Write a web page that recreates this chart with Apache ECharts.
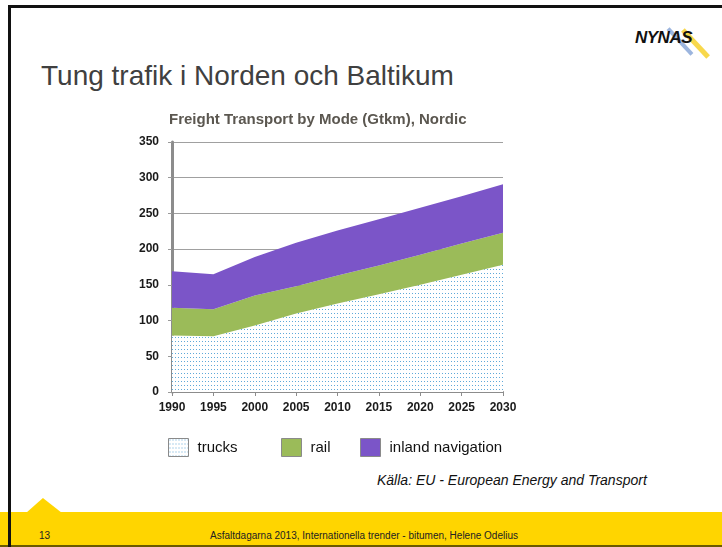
<!DOCTYPE html>
<html>
<head>
<meta charset="utf-8">
<title>Tung trafik i Norden och Baltikum</title>
<script src="https://cdn.jsdelivr.net/npm/echarts@6/dist/echarts.min.js"></script>
<style>
  html, body { margin: 0; padding: 0; background: #fff; }
  .slide {
    position: relative;
    width: 722px;
    height: 547px;
    overflow: hidden;
    font-family: Arial, "Liberation Sans", sans-serif;
  }
  .border-top { position: absolute; left: 8px; top: 5px; width: 714px; height: 3px; background: #111; }
  .border-left { position: absolute; left: 8px; top: 5px; width: 3px; height: 542px; background: #111; z-index: 3; }
  .heading {
    position: absolute; left: 41px; top: 60px;
    font-size: 28px; color: #404040; white-space: nowrap;
  }
  .logo { position: absolute; left: 630px; top: 20px; width: 80px; height: 36px; }
  .logo .blue { position: absolute; left: 48px; top: 4px; width: 4px; height: 35px; background: #5a84c8; transform: rotate(-43deg); opacity: .6; }
  .logo .yellow { position: absolute; left: 63px; top: 5px; width: 5px; height: 37px; background: #f5c800; transform: rotate(-43deg); opacity: .7; }
  .logo .name {
    position: absolute; left: 5px; top: 8px;
    font-size: 17px; font-weight: bold; font-style: italic; letter-spacing: -0.5px; color: #111;
  }
  .source {
    position: absolute; left: 377px; top: 472px;
    font-size: 14px; font-style: italic; color: #111; white-space: nowrap;
  }
  .footer { position: absolute; left: 0; top: 512px; width: 722px; height: 33px; background: #ffd500; border-bottom: 2px solid #6b5a00; }
  .bump { position: absolute; left: 26px; top: 498px; width: 36px; height: 15px; background: #ffd500; clip-path: polygon(0 100%, 47% 0, 100% 100%); }
  .footer-text { position: absolute; top: 530px; font-size: 10px; color: #222; white-space: nowrap; }
  #chart { position: absolute; left: 0; top: 0; width: 722px; height: 547px; z-index: 2; }
</style>
</head>
<body>
<div class="slide">
  <div class="border-top"></div>
  <div class="border-left"></div>
  <div class="heading">Tung trafik i Norden och Baltikum</div>
  <div class="logo">
    <div class="blue"></div>
    <div class="yellow"></div>
    <div class="name">NYNAS</div>
  </div>
  <div class="source">Källa: EU - European Energy and Transport</div>
  <div class="bump"></div>
  <div class="footer"></div>
  <div class="footer-text" style="left: 39px;">13</div>
  <div class="footer-text" style="left: 210px;">Asfaltdagarna 2013, Internationella trender - bitumen, Helene Odelius</div>
  <div id="chart"></div>
</div>

<script>
// data (Gtkm)
const years = ["1990", "1995", "2000", "2005", "2010", "2015", "2020", "2025", "2030"];
const trucks = [79, 78, 93, 110, 124, 137, 150, 164, 178];
const rail = [39, 38, 42, 38, 39, 40, 42, 44, 45];
const inland = [51, 49, 54, 61, 63, 65, 66, 66, 68];
const yTicks = [0, 50, 100, 150, 200, 250, 300, 350];

const font = 'Arial, "Liberation Sans", sans-serif';

// dotted fill for the trucks area
const dotPattern = () => {
  const c = document.createElement("canvas");
  c.width = 3;
  c.height = 4;
  const ctx = c.getContext("2d");
  ctx.fillStyle = "#ffffff";
  ctx.fillRect(0, 0, 3, 4);
  ctx.fillStyle = "#5fa9d9";
  ctx.fillRect(1, 1, 1, 1);
  return c;
};
const trucksFill = { image: dotPattern(), repeat: "repeat" };
const railColor = "#9bbb59";
const inlandColor = "#7b55c8";

const legendItem = (left, name, color) => ({
  left: left,
  top: 438,
  padding: 0,
  icon: "rect",
  itemWidth: 20,
  itemHeight: 18,
  selectedMode: false,
  textStyle: { fontFamily: font, fontSize: 15, color: "#111", padding: [0, 0, 0, 4] },
  data: [{ name: name, itemStyle: { color: color, borderColor: "#8a8a8a", borderWidth: 1 } }],
});

const areaSeries = (name, data, color) => ({
  name: name,
  type: "line",
  stack: "total",
  data: data,
  symbol: "none",
  silent: true,
  lineStyle: { width: 0 },
  itemStyle: { color: color },
  areaStyle: { color: color, opacity: 1 },
});

const option = {
  animation: false,
  backgroundColor: "transparent",
  title: {
    text: "Freight Transport by Mode (Gtkm), Nordic",
    left: 169,
    top: 112,
    padding: 0,
    textStyle: { fontFamily: font, fontSize: 15, fontWeight: "bold", color: "#5b5750" },
  },
  legend: [
    legendItem(168, "trucks", trucksFill),
    legendItem(281, "rail", railColor),
    legendItem(360, "inland navigation", inlandColor),
  ],
  grid: { left: 172, top: 142, width: 331, height: 250, containLabel: false },
  xAxis: {
    type: "category",
    data: years,
    boundaryGap: false,
    axisLine: { lineStyle: { color: "#8c8c8c", width: 2 } },
    axisTick: { show: true, length: 4, lineStyle: { color: "#8c8c8c" } },
    axisLabel: { fontFamily: font, fontSize: 12, fontWeight: "bold", color: "#1a1a1a", margin: 10 },
  },
  yAxis: {
    type: "value",
    min: yTicks[0],
    max: yTicks[yTicks.length - 1],
    interval: yTicks[1] - yTicks[0],
    axisLine: { show: true, lineStyle: { color: "#8c8c8c", width: 3 } },
    axisTick: { show: true, length: 4, lineStyle: { color: "#9a9a9a" } },
    axisLabel: { fontFamily: font, fontSize: 12, fontWeight: "bold", color: "#1a1a1a", margin: 13 },
    splitLine: { lineStyle: { color: "#a0a0a0", width: 1 } },
  },
  series: [
    areaSeries("trucks", trucks, trucksFill),
    areaSeries("rail", rail, railColor),
    areaSeries("inland navigation", inland, inlandColor),
  ],
};

const myChart = echarts.init(document.getElementById("chart"));
myChart.setOption(option);
</script>
</body>
</html>
